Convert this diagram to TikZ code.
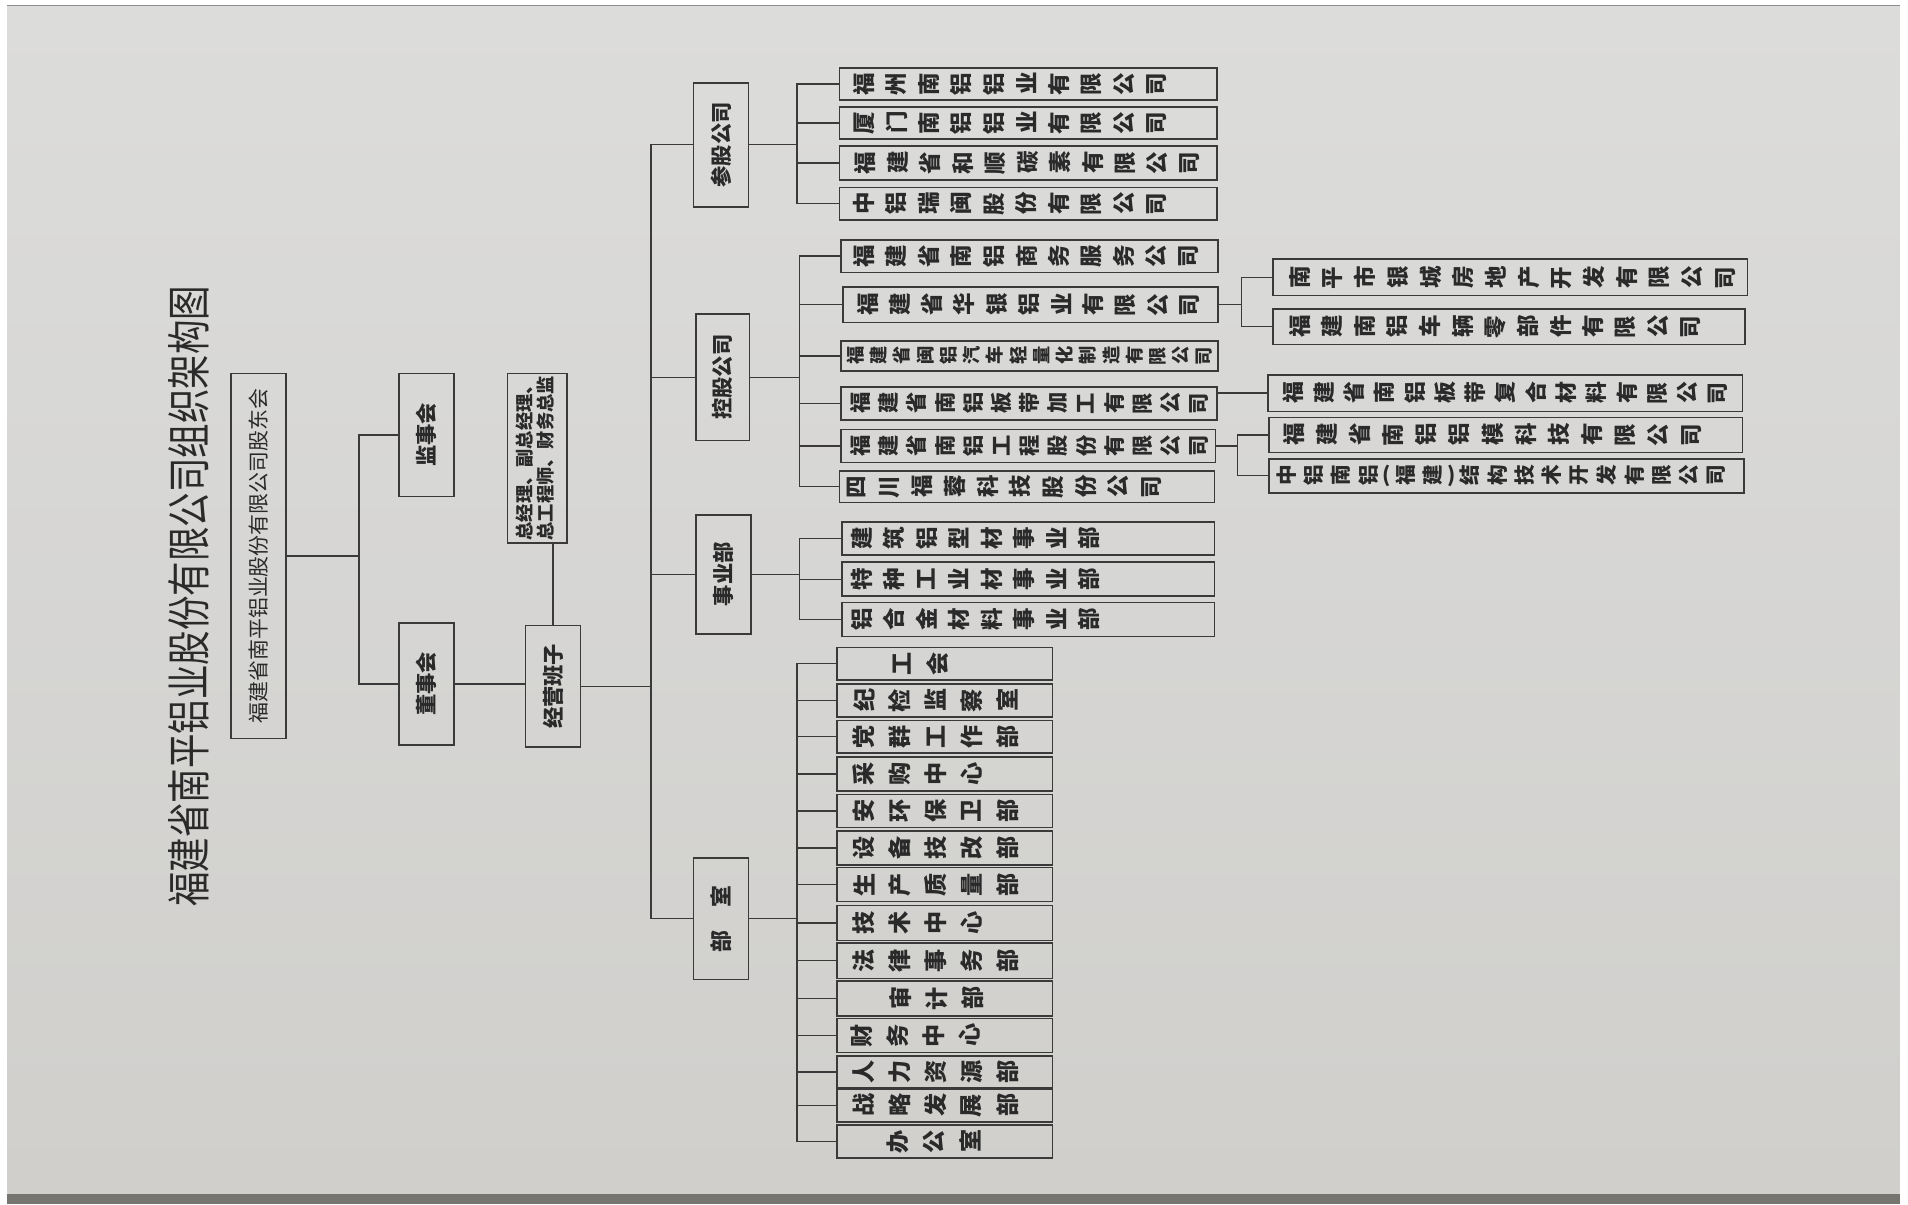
\documentclass[tikz,border=0pt]{standalone}
\usepackage{fontspec}
\usepackage{graphicx}
\setmainfont{Noto Sans CJK SC}
\ExplSyntaxOn
\NewDocumentCommand\rt{mm}{\tl_map_inline:nn{#2}{\makebox[#1][c]{\rotatebox[origin=c]{90}{##1}}}}
\ExplSyntaxOff
\definecolor{lc}{HTML}{3A3A3A}
\definecolor{tc}{HTML}{2A2A2A}
\definecolor{paperT}{HTML}{DCDCDB}
\definecolor{paperB}{HTML}{D0CFCC}
\definecolor{stripc}{HTML}{77756F}
\tikzset{
  bx/.style={draw=lc, line width=1.3pt, inner sep=0pt, text=tc},
  ln/.style={draw=lc, line width=1.1pt},
}
% name, cx, cy, w, h, offset, pitch, fontsize, text
\newcommand\kbox[9]{\node[bx, minimum width=#4pt, minimum height=#5pt, font=\fontsize{#8}{#8}\selectfont\bfseries] (#1) at (#2,#3) {\makebox[#4pt][l]{\hspace*{#6pt}\rt{#7pt}{#9}}};}
% name, cx, cy, w, h, fontsize, text (rotated whole)
\newcommand\rbox[7]{\node[bx, minimum width=#4pt, minimum height=#5pt, font=\fontsize{#6}{#6}\selectfont\bfseries] (#1) at (#2,#3) {\rotatebox{90}{#7}};}
\begin{document}
\begin{tikzpicture}[x=1pt,y=-1pt]
\useasboundingbox (0,0) rectangle (1568,989.6);
\fill[white] (0,0) rectangle (1568,989.6);
\shade[top color=paperT, bottom color=paperB] (6,4.5) rectangle (1561,981);
\draw[line width=0.8pt, color=black!45] (6,4.9) -- (1561,4.9);
\fill[stripc] (6,981) rectangle (1561,989.6);

% title
\node[rotate=90, text=tc, inner sep=0pt, font=\fontsize{31.5}{31.5}\selectfont] (title) at (155,490) {\scalebox{0.9}[1.15]{福建省南平铝业股份有限公司组织架构图}};

% upper levels
\node[bx, minimum width=45pt, minimum height=300pt, font=\fontsize{17.2}{17.2}\selectfont] (gd) at (212.5,457) {\rotatebox{90}{福建省南平铝业股份有限公司股东会}};
\rbox{jsh}{350.5}{357.5}{45}{101}{17.5}{监事会}
\rbox{dsh}{350.5}{562}{45}{100}{17.5}{董事会}
\node[bx, minimum width=49pt, minimum height=139pt, font=\fontsize{15}{17}\selectfont\bfseries] (zjl) at (441.5,376.5) {\rotatebox{90}{\begin{tabular}{@{}l@{}}总经理、副总经理、\\总工程师、财务总监\end{tabular}}};
\rbox{jy}{454.5}{564}{45}{100}{17.5}{经营班子}
\rbox{cg}{592.5}{119}{45}{102}{17.5}{参股公司}
\rbox{kg}{594}{310}{44}{104}{17.5}{控股公司}
\rbox{syb}{594.5}{472}{45}{98}{17.5}{事业部}
\rbox{bs}{592.5}{755}{45}{100}{18}{部\hspace{19pt}室}

% 参股公司
\kbox{c1}{845}{69}{310}{26}{6.65}{26.7}{18.5}{福州南铝铝业有限公司}
\kbox{c2}{845}{101}{310}{26}{6.65}{26.7}{18.5}{厦门南铝铝业有限公司}
\kbox{c3}{845}{134}{310}{28}{7.65}{26.7}{18.5}{福建省和顺碳素有限公司}
\kbox{c4}{845}{167.5}{310}{27}{6.65}{26.7}{18.5}{中铝瑞闽股份有限公司}

% 控股公司
\kbox{k1}{846}{210.5}{310}{27}{5.65}{26.7}{18.5}{福建省南铝商务服务公司}
\kbox{k2}{847}{250.5}{308}{29}{6.75}{26.5}{18.5}{福建省华银铝业有限公司}
\kbox{k3}{846}{292.5}{310}{25}{2.45}{19.1}{15}{福建省闽铝汽车轻量化制造有限公司}
\kbox{k4}{845.5}{331.5}{309}{27}{4.4}{23.2}{17.5}{福建省南铝板带加工有限公司}
\kbox{k5}{845}{366.5}{308}{27}{4.4}{23.2}{17.5}{福建省南铝工程股份有限公司}
\kbox{k6}{844}{400}{308}{26}{0.5}{26.9}{18.5}{四川福蓉科技股份公司}

\kbox{k21}{1241}{228}{390}{30}{8.55}{26.9}{18.5}{南平市银城房地产开发有限公司}
\kbox{k22}{1240}{268.5}{388}{29}{8.6}{26.8}{18.5}{福建南铝车辆零部件有限公司}
\kbox{k41}{1237}{323}{390}{30}{8.55}{24.9}{18}{福建省南铝板带复合材料有限公司}
\kbox{k51}{1237.5}{357.5}{389}{29}{6.4}{27.25}{18.5}{福建省南铝铝模科技有限公司}
\node[bx, minimum width=390pt, minimum height=28pt, font=\fontsize{17}{17}\selectfont\bfseries] (k52) at (1238,391) {\makebox[390pt][l]{\hspace*{2.75pt}\rt{22.5pt}{中铝南铝}\makebox[8pt]{(}\rt{22.5pt}{福建}\makebox[8pt]{)}\rt{22.5pt}{结构技术开发有限公司}}};

% 事业部
\kbox{s1}{845}{442.5}{306}{27}{2.65}{26.7}{18.5}{建筑铝型材事业部}
\kbox{s2}{845}{476}{306}{28}{2.65}{26.7}{18.5}{特种工业材事业部}
\kbox{s3}{845}{509}{306}{28}{2.65}{26.7}{18.5}{铝合金材料事业部}

% 部室
\kbox{d1}{776.5}{545.5}{177}{27}{38.25}{29.5}{19}{工会}
\kbox{d2}{776.5}{575.5}{177}{27}{7.25}{29.5}{19}{纪检监察室}
\kbox{d3}{776.5}{605.5}{177}{27}{7.25}{29.5}{19}{党群工作部}
\kbox{d4}{776.5}{636}{177}{28}{7.25}{29.5}{19}{采购中心}
\kbox{d5}{776.5}{666.5}{177}{27}{7.25}{29.5}{19}{安环保卫部}
\kbox{d6}{776.5}{697}{177}{28}{7.25}{29.5}{19}{设备技改部}
\kbox{d7}{776.5}{727}{177}{28}{7.25}{29.5}{19}{生产质量部}
\kbox{d8}{776.5}{758.5}{177}{29}{7.25}{29.5}{19}{技术中心}
\kbox{d9}{776.5}{789.5}{177}{29}{7.25}{29.5}{19}{法律事务部}
\kbox{d10}{776.5}{820.5}{177}{29}{37.25}{29.5}{19}{审计部}
\kbox{d11}{776.5}{851}{177}{28}{5.25}{29.5}{19}{财务中心}
\kbox{d12}{776.5}{881}{177}{26}{7.25}{29.5}{19}{人力资源部}
\kbox{d13}{776.5}{908.5}{177}{27}{7.25}{29.5}{19}{战略发展部}
\kbox{d14}{776.5}{938}{177}{27}{35.25}{29.5}{19}{办公室}

% connectors: upper
\coordinate (j1) at (295,457);
\draw[ln] (gd.east) -- (j1);
\draw[ln] (jsh.west) -| (j1) |- (dsh.west);
\draw[ln] (dsh.east) -- (dsh.east -| jy.west);
\draw[ln] (zjl.south -| jy.north) -- (jy.north);

% trunk
\coordinate (tk) at (535,437);
\draw[ln] (cg.west) -| (tk) |- (bs.west);
\draw[ln] (kg.west) -- (kg.west -| tk);
\draw[ln] (syb.west) -- (syb.west -| tk);
\draw[ln] (jy.east) -- (jy.east -| tk);

% 参股 bracket
\coordinate (bcg) at (655,119);
\draw[ln] (cg.east) -- (bcg);
\draw[ln] (c1.west) -| (bcg) |- (c4.west);
\foreach \n in {c2,c3} \draw[ln] (\n.west) -- (\n.west -| bcg);

% 控股 bracket
\coordinate (bkg) at (657,310);
\draw[ln] (kg.east) -- (bkg);
\draw[ln] (k1.west) -| (bkg) |- (k6.west);
\foreach \n in {k2,k3,k4,k5} \draw[ln] (\n.west) -- (\n.west -| bkg);

\coordinate (bk2) at (1020,250.5);
\draw[ln] (k2.east) -- (bk2);
\draw[ln] (k21.west) -| (bk2) |- (k22.west);
\draw[ln] (k4.east |- k41.west) -- (k41.west);
\coordinate (bk5) at (1017,366.5);
\draw[ln] (k5.east) -- (bk5);
\draw[ln] (k51.west) -| (bk5) |- (k52.west);

% 事业部 bracket
\coordinate (bsy) at (657,472);
\draw[ln] (syb.east) -- (bsy);
\draw[ln] (s1.west) -| (bsy) |- (s3.west);
\draw[ln] (s2.west) -- (s2.west -| bsy);

% 部室 bracket
\coordinate (bbs) at (655,755);
\draw[ln] (bs.east) -- (bbs);
\draw[ln] (d1.west) -| (bbs) |- (d14.west);
\foreach \n in {d2,d3,d4,d5,d6,d7,d8,d9,d10,d11,d12,d13} \draw[ln] (\n.west) -- (\n.west -| bbs);
\end{tikzpicture}
\end{document}
